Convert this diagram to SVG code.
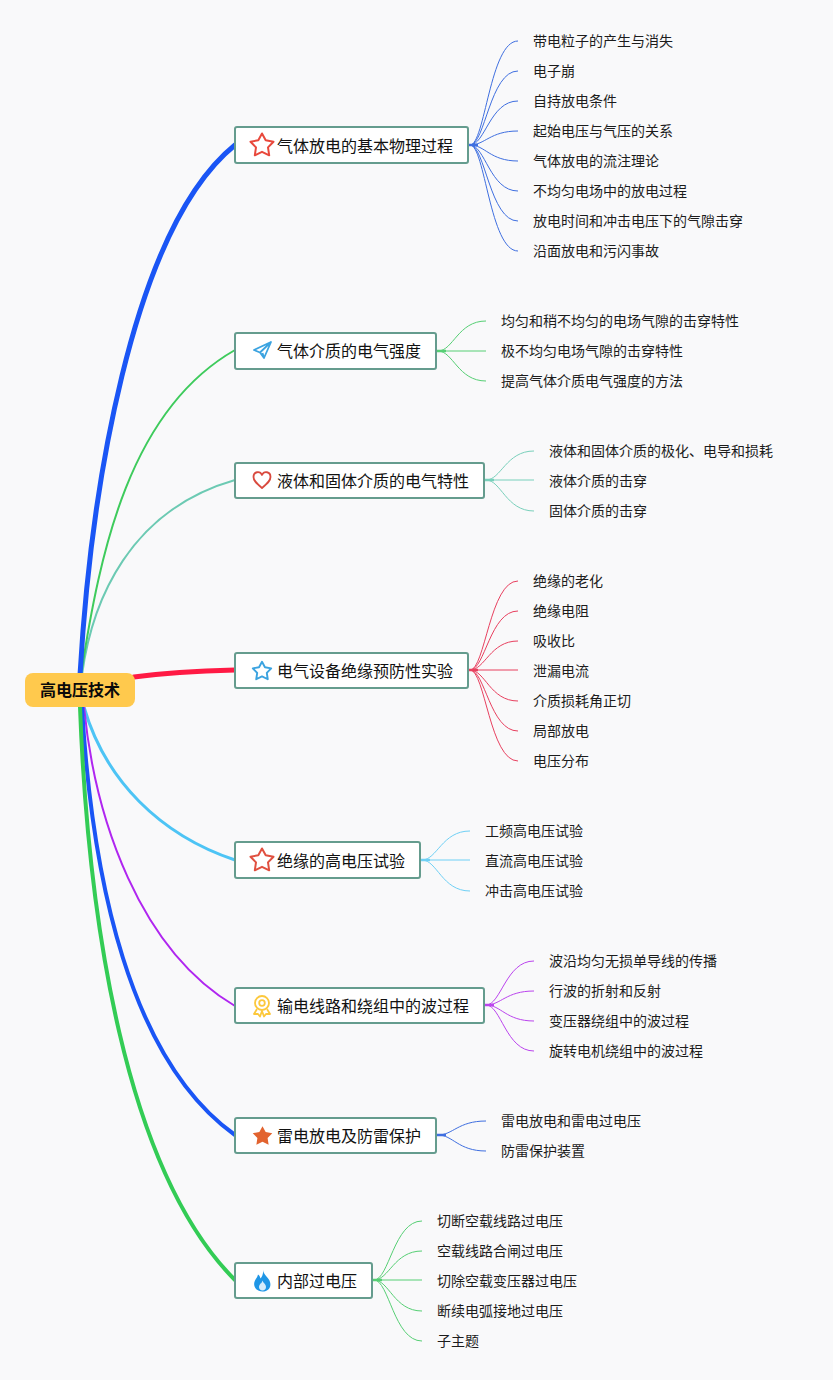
<svg xmlns="http://www.w3.org/2000/svg" width="833" height="1380" viewBox="0 0 833 1380">
<style>
.box{fill:#fff;stroke:#659c8e;stroke-width:2}
.t{font-family:"Liberation Sans","Noto Sans CJK SC",sans-serif;font-size:16px;fill:#111;dominant-baseline:central}
.l{font-family:"Liberation Sans","Noto Sans CJK SC",sans-serif;font-size:14px;fill:#1c1c1c;dominant-baseline:central}
.r{font-family:"Liberation Sans","Noto Sans CJK SC",sans-serif;font-size:16px;font-weight:700;fill:#0a0a0a;text-anchor:middle;dominant-baseline:central}
.c{fill:none;stroke-linecap:round}
.leaf{fill:none;stroke-width:1}
.b{stroke:#3f6fe0}.g{stroke:#56cf74}.q{stroke:#79d0bb}.d{stroke:#e8405f}.s{stroke:#6fd0f5}.p{stroke:#bb44ee}
</style>
<defs>
<path id="star" d="M0-11.500 3.700-4.700 11.500-3.300 6 2.400 7.200 10.300 0 6.800-7.200 10.300-6 2.400-11.500-3.300-3.700-4.700Z" stroke-linejoin="round"/>
</defs>
<rect width="833" height="1380" fill="#f9f9fa"/>
<g id="connectors">
<path class="c" stroke="#6ccab3" stroke-width="2" d="M82 675C92 600 130 510 235 480"/>
<path class="c" stroke="#3ecb5c" stroke-width="2" d="M81 675C100 550 130 410 235 350"/>
<path class="c" stroke="#1a55f5" stroke-width="5" d="M80 675C90 500 130 230 235 145"/>
<path class="c" stroke="#ff1a44" stroke-width="5" d="M134 677C165 673 200 671 235 670"/>
<path class="c" stroke="#4dc4f5" stroke-width="3" d="M84 707C105 780 160 835 235 860"/>
<path class="c" stroke="#b026f0" stroke-width="2" d="M84 707C95 820 140 950 235 1006"/>
<path class="c" stroke="#1a55f5" stroke-width="4" d="M82 707C92 880 130 1060 235 1135"/>
<path class="c" stroke="#33cc55" stroke-width="4" d="M80 707C88 920 125 1170 235 1280"/>
<g class="leaf b">
<path d="M468 145H478" stroke-width="2.500"/>
<path d="M470 145C485 145 490 41 518 41"/><path d="M470 145C485 145 490 71 518 71"/><path d="M470 145C485 145 490 101 518 101"/><path d="M470 145C485 145 490 131 518 131"/><path d="M470 145C485 145 490 161 518 161"/><path d="M470 145C485 145 490 191 518 191"/><path d="M470 145C485 145 490 221 518 221"/><path d="M470 145C485 145 490 251 518 251"/>
</g>
<g class="leaf g">
<path d="M436 351H446" stroke-width="2.500"/>
<path d="M438 351C453 351 458 321 486 321"/><path d="M438 351H486"/><path d="M438 351C453 351 458 381 486 381"/>
</g>
<g class="leaf q">
<path d="M484 480H494" stroke-width="2.500"/>
<path d="M486 480C501 480 506 451 534 451"/><path d="M486 480H534"/><path d="M486 480C501 480 506 511 534 511"/>
</g>
<g class="leaf d">
<path d="M468 670H478" stroke-width="2.500"/>
<path d="M470 670C485 670 490 581 518 581"/><path d="M470 670C485 670 490 611 518 611"/><path d="M470 670C485 670 490 641 518 641"/><path d="M470 670H518"/><path d="M470 670C485 670 490 701 518 701"/><path d="M470 670C485 670 490 731 518 731"/><path d="M470 670C485 670 490 761 518 761"/>
</g>
<g class="leaf s">
<path d="M420 860H430" stroke-width="2.500"/>
<path d="M422 860C437 860 442 831 470 831"/><path d="M422 860H470"/><path d="M422 860C437 860 442 891 470 891"/>
</g>
<g class="leaf p">
<path d="M484 1005H494" stroke-width="2.500"/>
<path d="M486 1005C501 1005 506 961 534 961"/><path d="M486 1005C501 1005 506 991 534 991"/><path d="M486 1005C501 1005 506 1021 534 1021"/><path d="M486 1005C501 1005 506 1051 534 1051"/>
</g>
<g class="leaf b">
<path d="M436 1135H446" stroke-width="2.500"/>
<path d="M438 1135C453 1135 458 1121 486 1121"/><path d="M438 1135C453 1135 458 1151 486 1151"/>
</g>
<g class="leaf g">
<path d="M372 1280H382" stroke-width="2.500"/>
<path d="M374 1280C389 1280 394 1221 422 1221"/><path d="M374 1280C389 1280 394 1251 422 1251"/><path d="M374 1280H422"/><path d="M374 1280C389 1280 394 1311 422 1311"/><path d="M374 1280C389 1280 394 1341 422 1341"/>
</g>
</g>
<g id="root"><rect x="25" y="673" width="110" height="34" rx="8" fill="#ffc94d"/><text class="r" x="80" y="690">高电压技术</text></g>
<g id="n1"><rect class="box" x="235" y="127" width="233" height="36" rx="2"/><use href="#star" x="262" y="145" fill="none" stroke="#e8483c" stroke-width="2"/><text class="t" x="277" y="146">气体放电的基本物理过程</text></g>
<g id="n2"><rect class="box" x="235" y="333" width="201" height="36" rx="2"/><path d="M271 342 254 350 260 352.500 264 358 271 342 260 352.500M264 358 262.500 353" fill="none" stroke="#3ba3e0" stroke-width="1.800" stroke-linejoin="round"/><text class="t" x="277" y="351">气体介质的电气强度</text></g>
<g id="n3"><rect class="box" x="235" y="463" width="249" height="35" rx="2"/><path d="M262 488C256 483 253.500 480.500 253.500 477C253.500 471.500 260 470.500 262 475C264 470.500 270.500 471.500 270.500 477C270.500 480.500 268 483 262 488Z" fill="none" stroke="#d9493e" stroke-width="1.800" stroke-linejoin="round"/><text class="t" x="277" y="481">液体和固体介质的电气特性</text></g>
<g id="n4"><rect class="box" x="235" y="653" width="233" height="35" rx="2"/><use href="#star" transform="translate(262 671) scale(.8)" fill="none" stroke="#3ba3e0" stroke-width="2.400"/><text class="t" x="277" y="671">电气设备绝缘预防性实验</text></g>
<g id="n5"><rect class="box" x="235" y="842" width="185" height="36" rx="2"/><use href="#star" x="262" y="860" fill="none" stroke="#e05040" stroke-width="2"/><text class="t" x="277" y="861">绝缘的高电压试验</text></g>
<g id="n6"><rect class="box" x="235" y="988" width="249" height="35" rx="2"/><g fill="none" stroke="#fcc83c" stroke-width="1.800" stroke-linejoin="round"><circle cx="262" cy="1003" r="7"/><circle cx="262" cy="1003" r="2.800"/><path d="M257 1009 254 1014 258 1014 260 1016.500 262 1011 264 1016.500 266 1014 270 1014 267 1009"/></g><text class="t" x="277" y="1006">输电线路和绕组中的波过程</text></g>
<g id="n7"><rect class="box" x="235" y="1118" width="201" height="35" rx="2"/><use href="#star" transform="translate(262.500 1136) scale(.85)" fill="#e2632f"/><text class="t" x="277" y="1136">雷电放电及防雷保护</text></g>
<g id="n8"><rect class="box" x="235" y="1263" width="137" height="35" rx="2"/><path d="M263 1269.500C263.500 1274 266 1275.500 268.500 1279C272.500 1284.500 270 1291.500 262.500 1291.500C255.500 1291.500 252.500 1285.500 255 1280.500C256 1278.500 257.500 1277 258 1274.500C259.500 1275.500 260.200 1277 260.500 1278.500C262.500 1276 263.500 1273 263 1269.500Z" fill="#1f96e6"/><path d="M262.500 1280.500C263 1283 266 1284 266 1287C266 1289 264.500 1290.500 262.500 1290.500C260.500 1290.500 259 1289 259 1287C259 1285.500 260 1284.500 260.500 1283.500C261.500 1283.500 262 1282 262.500 1280.500Z" fill="#d6ecfb"/><text class="t" x="277" y="1281">内部过电压</text></g>
<g id="leaves1"><text class="l" x="533" y="41">带电粒子的产生与消失</text><text class="l" x="533" y="71">电子崩</text><text class="l" x="533" y="101">自持放电条件</text><text class="l" x="533" y="131">起始电压与气压的关系</text><text class="l" x="533" y="161">气体放电的流注理论</text><text class="l" x="533" y="191">不均匀电场中的放电过程</text><text class="l" x="533" y="221">放电时间和冲击电压下的气隙击穿</text><text class="l" x="533" y="251">沿面放电和污闪事故</text></g>
<g id="leaves2"><text class="l" x="501" y="321">均匀和稍不均匀的电场气隙的击穿特性</text><text class="l" x="501" y="351">极不均匀电场气隙的击穿特性</text><text class="l" x="501" y="381">提高气体介质电气强度的方法</text></g>
<g id="leaves3"><text class="l" x="549" y="451">液体和固体介质的极化、电导和损耗</text><text class="l" x="549" y="481">液体介质的击穿</text><text class="l" x="549" y="511">固体介质的击穿</text></g>
<g id="leaves4"><text class="l" x="533" y="581">绝缘的老化</text><text class="l" x="533" y="611">绝缘电阻</text><text class="l" x="533" y="641">吸收比</text><text class="l" x="533" y="671">泄漏电流</text><text class="l" x="533" y="701">介质损耗角正切</text><text class="l" x="533" y="731">局部放电</text><text class="l" x="533" y="761">电压分布</text></g>
<g id="leaves5"><text class="l" x="485" y="831">工频高电压试验</text><text class="l" x="485" y="861">直流高电压试验</text><text class="l" x="485" y="891">冲击高电压试验</text></g>
<g id="leaves6"><text class="l" x="549" y="961">波沿均匀无损单导线的传播</text><text class="l" x="549" y="991">行波的折射和反射</text><text class="l" x="549" y="1021">变压器绕组中的波过程</text><text class="l" x="549" y="1051">旋转电机绕组中的波过程</text></g>
<g id="leaves7"><text class="l" x="501" y="1121">雷电放电和雷电过电压</text><text class="l" x="501" y="1151">防雷保护装置</text></g>
<g id="leaves8"><text class="l" x="437" y="1221">切断空载线路过电压</text><text class="l" x="437" y="1251">空载线路合闸过电压</text><text class="l" x="437" y="1281">切除空载变压器过电压</text><text class="l" x="437" y="1311">断续电弧接地过电压</text><text class="l" x="437" y="1341">子主题</text></g>
</svg>
